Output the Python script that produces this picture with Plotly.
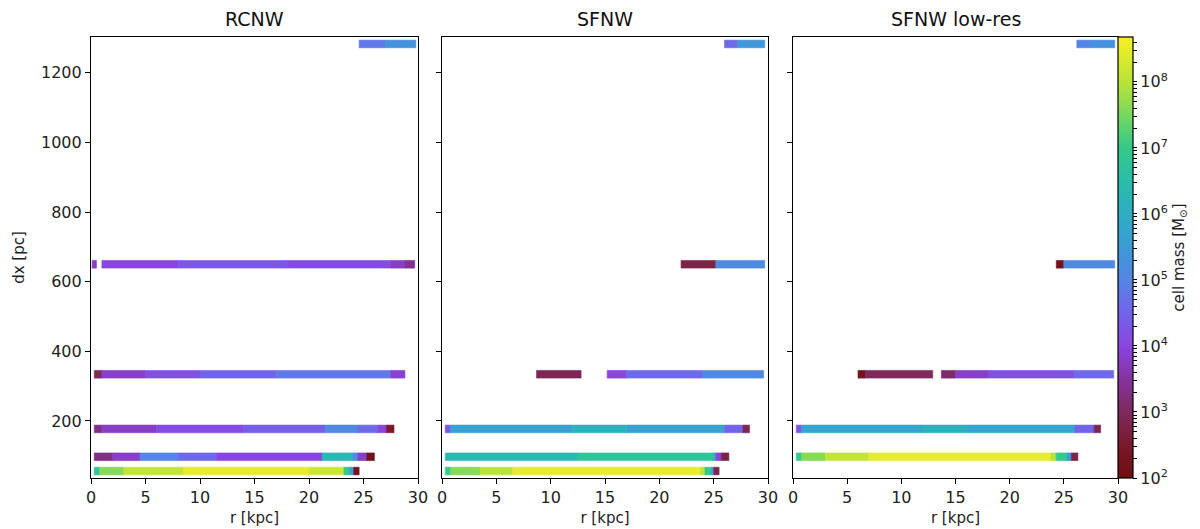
import math
import plotly.graph_objects as go
from plotly.subplots import make_subplots

# ---------------- data ----------------
PANEL_TITLES = ["RCNW", "SFNW", "SFNW low-res"]

# RCNW : segments of cells (dx level, r start, r end, log10 cell mass)
RCNW_DX = [1283, 1283,
           650, 650, 650, 650, 650, 650,
           334, 334, 334, 334, 334, 334,
           177, 177, 177, 177, 177, 177, 177, 177,
           97, 97, 97, 97, 97, 97, 97, 97, 97,
           56, 56, 56, 56, 56, 56, 56, 56]
RCNW_R0 = [24.6, 27.0,
           0.1, 1.0, 8.0, 18.0, 27.5, 28.8,
           0.3, 1.0, 5.0, 10.0, 17.0, 27.5,
           0.3, 1.0, 6.0, 14.0, 21.5, 24.5, 26.3, 27.1,
           0.3, 2.0, 4.5, 8.0, 11.5, 21.2, 24.0, 24.5, 25.3,
           0.3, 0.8, 3.0, 8.5, 20.0, 23.2, 23.7, 24.1]
RCNW_R1 = [27.0, 29.8,
           0.5, 8.0, 18.0, 27.5, 28.8, 29.7,
           1.0, 5.0, 10.0, 17.0, 27.5, 28.8,
           1.0, 6.0, 14.0, 21.5, 24.5, 26.3, 27.1, 27.8,
           2.0, 4.5, 8.0, 11.5, 21.2, 24.0, 24.5, 25.3, 26.0,
           0.8, 3.0, 8.5, 20.0, 23.2, 23.7, 24.1, 24.6]
RCNW_LOGM = [4.8, 5.3,
             3.8, 4.0, 4.3, 4.1, 3.8, 3.4,
             3.0, 3.8, 4.2, 4.5, 4.8, 3.9,
             3.3, 3.8, 4.1, 4.4, 5.1, 4.6, 4.0, 2.5,
             3.3, 3.8, 5.0, 4.6, 4.0, 6.3, 5.2, 3.8, 2.2,
             6.8, 7.6, 8.1, 8.5, 8.2, 7.0, 5.5, 2.3]

# SFNW
SFNW_DX = [1283, 1283,
           650, 650,
           334, 334, 334, 334,
           177, 177, 177, 177, 177, 177,
           97, 97, 97, 97, 97,
           56, 56, 56, 56, 56, 56, 56, 56]
SFNW_R0 = [26.0, 27.2,
           22.0, 25.2,
           8.7, 15.2, 17.0, 24.0,
           0.3, 0.8, 12.0, 17.0, 26.0, 27.7,
           0.3, 12.5, 24.9, 25.2, 25.7,
           0.3, 0.8, 3.5, 6.5, 23.8, 24.2, 24.8, 25.0]
SFNW_R1 = [27.2, 29.7,
           25.2, 29.7,
           12.8, 17.0, 24.0, 29.6,
           0.8, 12.0, 17.0, 26.0, 27.7, 28.3,
           12.5, 24.9, 25.2, 25.7, 26.4,
           0.8, 3.5, 6.5, 23.8, 24.2, 24.8, 25.0, 25.5]
SFNW_LOGM = [4.6, 5.4,
             2.8, 5.1,
             2.9, 4.0, 4.6, 5.1,
             4.3, 5.7, 6.1, 5.7, 4.5, 2.9,
             6.3, 6.8, 6.4, 4.0, 2.8,
             7.0, 7.6, 8.0, 8.5, 8.0, 7.0, 5.5, 2.9]

# SFNW low-res
LOWRES_DX = [1283, 1283,
             650, 650,
             334, 334, 334, 334, 334, 334,
             177, 177, 177, 177, 177, 177,
             97, 97, 97, 97, 97, 97, 97, 97]
LOWRES_R0 = [26.2, 27.5,
             24.3, 25.0,
             6.0, 6.7, 13.7, 15.0, 18.0, 26.0,
             0.3, 0.8, 12.0, 16.0, 26.0, 27.8,
             0.3, 0.8, 3.0, 7.0, 23.8, 24.3, 25.3, 25.7]
LOWRES_R1 = [27.5, 29.7,
             25.0, 29.7,
             6.7, 12.9, 15.0, 18.0, 26.0, 29.6,
             0.8, 12.0, 16.0, 26.0, 27.8, 28.4,
             0.8, 3.0, 7.0, 23.8, 24.3, 25.3, 25.7, 26.3]
LOWRES_LOGM = [5.0, 5.3,
               2.2, 5.1,
               2.3, 3.0, 3.1, 3.8, 4.2, 4.6,
               4.3, 5.8, 6.1, 5.8, 4.5, 2.9,
               7.0, 7.6, 8.1, 8.5, 8.0, 7.0, 5.5, 2.8]

CBAR_MIN, CBAR_MAX = 2.0, 8.68
CBAR_MAJOR = [2, 3, 4, 5, 6, 7, 8]
X_TICKS = [0, 5, 10, 15, 20, 25, 30]
Y_TICKS = [200, 400, 600, 800, 1000, 1200]

# ---------------- figure ----------------
COLORSCALE = [
    [0.00, "#6e0d10"],
    [0.08, "#7a1a2e"],
    [0.15, "#7d2a5c"],
    [0.23, "#8534a4"],
    [0.30, "#8a45e2"],
    [0.37, "#7462ea"],
    [0.45, "#5585e6"],
    [0.52, "#3c9ad6"],
    [0.60, "#2eaec4"],
    [0.67, "#29bda9"],
    [0.75, "#34ca8a"],
    [0.82, "#74d760"],
    [0.89, "#b4e23a"],
    [1.00, "#f8f023"],
]

FONT = "DejaVu Sans"
L, R, T, B = 91, 82, 37, 51
W = 1200 - L - R
doms = [(0, (418 - L) / W), ((442 - L) / W, (768 - L) / W), ((793 - L) / W, 1.0)]

fig = make_subplots(rows=1, cols=3, shared_yaxes=True, subplot_titles=PANEL_TITLES,
                    horizontal_spacing=0.02)

panels = [(RCNW_DX, RCNW_R0, RCNW_R1, RCNW_LOGM),
          (SFNW_DX, SFNW_R0, SFNW_R1, SFNW_LOGM),
          (LOWRES_DX, LOWRES_R0, LOWRES_R1, LOWRES_LOGM)]

for i, (dx, r0, r1, lm) in enumerate(panels):
    fig.add_trace(go.Bar(
        orientation="h",
        y=dx,
        base=r0,
        x=[b - a for a, b in zip(r0, r1)],
        width=22,
        marker=dict(color=lm, coloraxis="coloraxis",
                    line=dict(width=0.6, color=lm, coloraxis="coloraxis")),
        showlegend=False,
        hoverinfo="skip",
    ), row=1, col=i + 1)

minor_vals = []
for d in range(2, 9):
    for m in range(2, 10):
        v = d + math.log10(m)
        if v <= CBAR_MAX:
            minor_vals.append(v)

axis_common = dict(showline=True, linecolor="black", linewidth=1.2, mirror=True,
                   ticks="outside", ticklen=5, tickwidth=1.2, tickcolor="black",
                   showgrid=False, zeroline=False,
                   tickfont=dict(family=FONT, size=16, color="#222"))

for i in range(3):
    xa = "xaxis" if i == 0 else f"xaxis{i+1}"
    ya = "yaxis" if i == 0 else f"yaxis{i+1}"
    fig.layout[xa].update(domain=doms[i], range=[0, 30], tickvals=X_TICKS,
                          title=dict(text="r [kpc]", standoff=6,
                                     font=dict(family=FONT, size=15, color="#222")),
                          **axis_common)
    fig.layout[ya].update(range=[36, 1303], tickvals=Y_TICKS,
                          showticklabels=(i == 0), **axis_common)

fig.layout.yaxis.title = dict(text="dx [pc]", standoff=12,
                              font=dict(family=FONT, size=15, color="#222"))

for j, ann in enumerate(fig.layout.annotations):
    ann.font = dict(family=FONT, size=19, color="#111")
    ann.x = (doms[j][0] + doms[j][1]) / 2
    ann.yshift = 5

fig.update_layout(
    width=1200, height=529,
    margin=dict(l=L, r=R, t=T, b=B, autoexpand=False),
    paper_bgcolor="white", plot_bgcolor="white",
    barmode="overlay",
    font=dict(family=FONT, size=15, color="#222"),
    coloraxis=dict(
        cmin=CBAR_MIN, cmax=CBAR_MAX, colorscale=COLORSCALE,
        colorbar=dict(
            x=1.0, xanchor="left", xpad=0, y=0, yanchor="bottom", yref="paper",
            ypad=0, len=1.0, lenmode="fraction", thickness=15,
            outlinecolor="black", outlinewidth=1.2,
            tickmode="array",
            tickvals=CBAR_MAJOR + minor_vals,
            ticktext=[f"10<sup>{v}</sup>" for v in CBAR_MAJOR] + [""] * len(minor_vals),
            ticks="outside", ticklen=4, tickwidth=1, tickcolor="black",
            tickfont=dict(family=FONT, size=16, color="#222"),
            title=dict(text="cell mass [M<sub>⊙</sub>]", side="right",
                       font=dict(family=FONT, size=15, color="#222")),
        ),
    ),
)

fig.write_html("out.html",
               config={"displayModeBar": False},
               post_script="document.body.style.margin='0px';"
                           "document.body.style.overflow='hidden';")
